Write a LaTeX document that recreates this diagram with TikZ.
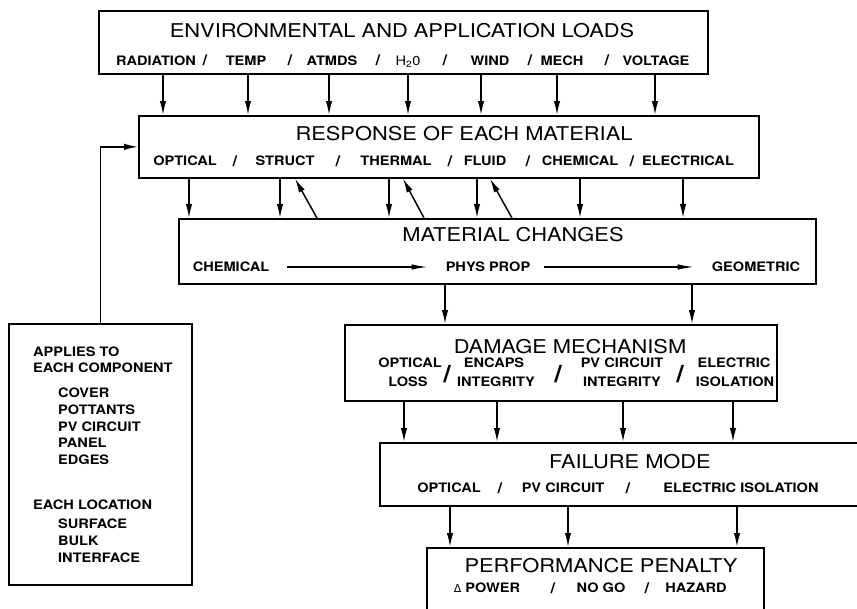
\documentclass[tikz,border=0pt]{standalone}
\usepackage{fontspec}
\setmainfont{TeX Gyre Heros}
\newfontfamily\ttlfont[FakeStretch=1.15]{TeX Gyre Heros}
\newfontfamily\lblfont[FakeStretch=1.12]{TeX Gyre Heros}
\newfontfamily\symfont{DejaVu Sans}
\usetikzlibrary{arrows.meta,calc}

\begin{document}
\begin{tikzpicture}[x=1pt,y=-1pt,
  box/.style={draw, line width=1.7pt, anchor=north west, inner sep=0pt},
  ttl/.style={font=\ttlfont\fontsize{19}{19}\selectfont, inner sep=0pt, text height=13.6pt, text depth=0pt},
  lbl/.style={font=\lblfont\bfseries\fontsize{13}{13}\selectfont, inner sep=0pt, text height=9.4pt, text depth=0pt},
  lft/.style={lbl, anchor=west},
  sl/.style={font=\lblfont\bfseries\fontsize{15}{15}\selectfont, inner sep=0pt},
  bigsl/.style={font=\lblfont\bfseries\fontsize{24}{24}\selectfont, inner sep=0pt},
  arr/.style={line width=1.5pt, -{Latex[length=14pt,width=6.5pt]}},
  flow/.style={line width=1.3pt, -{Latex[length=16pt,width=5.5pt]}},
]
\useasboundingbox (0,0) rectangle (857,608);
\clip (0,0) rectangle (857,608);

% ---- boxes ----
\node[box, minimum width=609pt, minimum height=63pt] (b1) at (98,10) {};
\node[box, minimum width=620pt, minimum height=62pt] (b2) at (138,115) {};
\node[box, minimum width=637pt, minimum height=65pt] (b3) at (178,218) {};
\node[box, minimum width=432pt, minimum height=76pt] (b4) at (344,324) {};
\node[box, minimum width=500pt, minimum height=63pt] (b5) at (379,442) {};
\node[box, minimum width=337pt, minimum height=80pt] (b6) at (426,547) {};
\node[box, minimum width=183pt, minimum height=261pt] (lb) at (8,323) {};

% ---- loads ----
\node[ttl] (t1) at (402,31) {ENVIRONMENTAL AND APPLICATION LOADS};
\node[lbl] (l1a) at (156,60.5) {RADIATION};
\node[sl]  (s1a) at (205,60.5) {/};
\node[lbl] (l1b) at (246,60.5) {TEMP};
\node[sl]  (s1b) at (290,60.5) {/};
\node[lbl] (l1c) at (332,60.5) {ATMDS};
\node[sl]  (s1c) at (378,60.5) {/};
\node[lbl] (l1d) at (408,60.5) {\mdseries H\textsubscript{2}0};
\node[sl]  (s1d) at (445,60.5) {/};
\node[lbl] (l1e) at (490,60.5) {WIND};
\node[sl]  (s1e) at (530,60.5) {/};
\node[lbl] (l1f) at (562,60.5) {MECH};
\node[sl]  (s1f) at (607,60.5) {/};
\node[lbl] (l1g) at (656,60.5) {VOLTAGE};

% ---- response ----
\node[ttl] (t2) at (464,134) {RESPONSE OF EACH MATERIAL};
\node[lbl] (l2a) at (185,161) {OPTICAL};
\node[sl]  (s2a) at (235,161) {/};
\node[lbl] (l2b) at (285,161) {STRUCT};
\node[sl]  (s2b) at (338,161) {/};
\node[lbl] (l2c) at (396,161) {THERMAL};
\node[sl]  (s2c) at (450,161) {/};
\node[lbl] (l2d) at (485,161) {FLUID};
\node[sl]  (s2d) at (528,161) {/};
\node[lbl] (l2e) at (580,161) {CHEMICAL};
\node[sl]  (s2e) at (632,161) {/};
\node[lbl] (l2f) at (688,161) {ELECTRICAL};

% ---- material changes ----
\node[ttl] (t3) at (513,235) {MATERIAL CHANGES};
\node[lbl] (l3a) at (231,267) {CHEMICAL};
\node[lbl] (l3b) at (488,267) {PHYS PROP};
\node[lbl] (l3c) at (756,267) {GEOMETRIC};
\draw[flow, shorten <=18pt, shorten >=18pt] (l3a.east) -- (l3b.west);
\draw[flow, shorten <=14pt, shorten >=18pt] (l3b.east) -- (l3c.west);

% ---- damage mechanism ----
\node[ttl] (t4) at (570,347) {DAMAGE MECHANISM};
\node[lbl] (l4a) at (410,363) {OPTICAL};
\node[lbl] (l4b) at (408,382) {LOSS};
\node[lbl] (l4c) at (494,363) {ENCAPS};
\node[lbl] (l4d) at (496,382) {INTEGRITY};
\node[lbl] (l4e) at (622,363) {PV CIRCUIT};
\node[lbl] (l4f) at (622,382) {INTEGRITY};
\node[lbl] (l4g) at (734,363) {ELECTRIC};
\node[lbl] (l4h) at (735,382) {ISOLATION};
\node[bigsl] (s4a) at (447,374) {/};
\node[bigsl] (s4b) at (558,374) {/};
\node[bigsl] (s4c) at (680,374) {/};

% ---- failure mode ----
\node[ttl] (t5) at (630,462) {FAILURE MODE};
\node[lbl] (l5a) at (449,488) {OPTICAL};
\node[sl]  (s5a) at (500,488) {/};
\node[lbl] (l5b) at (563,488) {PV CIRCUIT};
\node[sl]  (s5b) at (628,488) {/};
\node[lbl] (l5c) at (741,488) {ELECTRIC ISOLATION};

% ---- performance penalty ----
\node[ttl] (t6) at (601,566) {PERFORMANCE PENALTY};
\node[lbl] (l6a) at (487,588) {{\symfont\mdseries\fontsize{11}{11}\selectfont Δ} POWER};
\node[sl]  (s6a) at (553,588) {/};
\node[lbl] (l6b) at (601,588) {NO GO};
\node[sl]  (s6b) at (647,588) {/};
\node[lbl] (l6c) at (696,588) {HAZARD};

% ---- component / location list ----
\node[lft] (c1) at (33,352) {APPLIES TO};
\node[lft] (c2) at (33,368) {EACH COMPONENT};
\node[lft] (c3) at (58,393) {COVER};
\node[lft] (c4) at (58,410) {POTTANTS};
\node[lft] (c5) at (58,427) {PV CIRCUIT};
\node[lft] (c6) at (58,443) {PANEL};
\node[lft] (c7) at (58,460) {EDGES};
\node[lft] (c8) at (33,505) {EACH LOCATION};
\node[lft] (c9) at (58,524) {SURFACE};
\node[lft] (c10) at (58,541) {BULK};
\node[lft] (c11) at (58,558) {INTERFACE};

% ---- connectors ----
\foreach \x in {163,248,329,408,481,557,655}
  \draw[arr] (\x,0 |- b1.south) -- (\x,0 |- b2.north);
\foreach \x in {189,280,389,477,580,683}
  \draw[arr] (\x,0 |- b2.south) -- (\x,0 |- b3.north);
\draw[arr] (317,0 |- b3.north) -- (295,0 |- b2.south);
\draw[arr] (424,0 |- b3.north) -- (403,0 |- b2.south);
\draw[arr] (512,0 |- b3.north) -- (490,0 |- b2.south);
\foreach \x in {445,692}
  \draw[arr] (\x,0 |- b3.south) -- (\x,0 |- b4.north);
\foreach \x in {404,497,623,733}
  \draw[arr] (\x,0 |- b4.south) -- (\x,0 |- b5.north);
\foreach \x in {450,568,737}
  \draw[arr] (\x,0 |- b5.south) -- (\x,0 |- b6.north);
\draw[arr] (lb.north) |- (b2.west);
\end{tikzpicture}
\end{document}
